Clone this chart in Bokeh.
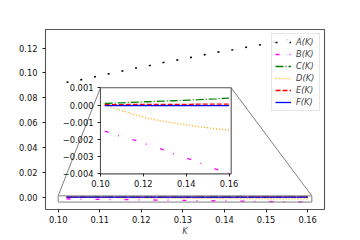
import numpy as np
from bokeh.plotting import figure
from bokeh.models import (Range1d, LinearAxis, FixedTicker, CustomJSTickFormatter,
                          Legend, LegendItem)
from bokeh.embed import file_html
from bokeh.resources import INLINE

# ---- data ----
K = [0.102, 0.106, 0.110, 0.114, 0.118, 0.122, 0.126, 0.130,
     0.134, 0.138, 0.142, 0.146, 0.150, 0.154, 0.158, 0.160]
A = [0.0925, 0.0948, 0.0978, 0.1005, 0.1034, 0.1060, 0.1089, 0.1112,
     0.1139, 0.1166, 0.1187, 0.1212, 0.1235, 0.1261, 0.1287, 0.1300]
B = [-0.00152, -0.00168, -0.00185, -0.00197, -0.00212, -0.00230, -0.00246, -0.00262,
     -0.00282, -0.00300, -0.00316, -0.00335, -0.00353, -0.00373, -0.00390, -0.00398]
C = [0.00009, 0.00011, 0.00013, 0.00015, 0.00017, 0.00019, 0.00021, 0.00023,
     0.00025, 0.00027, 0.00029, 0.00031, 0.00034, 0.00036, 0.00039, 0.00040]
D = [-0.00002, -0.00016, -0.00033, -0.00049, -0.00063, -0.00077, -0.00087, -0.00096,
     -0.00104, -0.00111, -0.00119, -0.00126, -0.00132, -0.00138, -0.00144, -0.00147]
E = [0.00002, 0.00002, 0.00002, 0.00003, 0.00003, 0.00003, 0.00003, 0.00004,
     0.00004, 0.00004, 0.00004, 0.00005, 0.00005, 0.00005, 0.00005, 0.00005]
F = [-0.00004, -0.00004, -0.00004, -0.00004, -0.00004, -0.00004, -0.00004, -0.00004,
     -0.00004, -0.00004, -0.00004, -0.00004, -0.00004, -0.00004, -0.00004, -0.00004]

series = [A, B, C, D, E, F]
labels = ["A(K)", "B(K)", "C(K)", "D(K)", "E(K)", "F(K)"]

main_xticks = [0.10, 0.11, 0.12, 0.13, 0.14, 0.15, 0.16]
main_yticks = [0.00, 0.02, 0.04, 0.06, 0.08, 0.10, 0.12]
inset_xticks = [0.10, 0.12, 0.14, 0.16]
inset_yticks = [-0.004, -0.003, -0.002, -0.001, 0.000, 0.001]
x_label = "K"

# ---- styles / layout ----
colors = ["black", "magenta", "green", "orange", "red", "blue"]
dashes = ["2 12", "4 10 1 14", "8 2 1 2", "1 2", "5 2", "solid"]
widths = [1.6, 1.3, 1.3, 1.3, 1.3, 1.3]

main_xlim = (0.09695, 0.16405)
main_ylim = (-0.0100, 0.1350)
inset_xlim = (0.100, 0.161)
inset_ylim = (-0.004, 0.001)
fx0, fy0, fx1, fy1 = 0.197, 0.198, 0.6656, 0.676   # inset box in axes fraction

FONT = "DejaVu Sans"
FS = "8.3px"

sx = (inset_xlim[1] - inset_xlim[0]) / (fx1 - fx0)
sy = (inset_ylim[1] - inset_ylim[0]) / (fy1 - fy0)
ix0 = inset_xlim[0] - fx0 * sx
iy0 = inset_ylim[0] - fy0 * sy

p = figure(width=360, height=240, x_range=Range1d(*main_xlim), y_range=Range1d(*main_ylim),
           output_backend="svg", toolbar_location=None,
           min_border_left=45, min_border_right=36, min_border_top=29, min_border_bottom=31)
p.extra_x_ranges = {"ix": Range1d(ix0, ix0 + sx)}
p.extra_y_ranges = {"iy": Range1d(iy0, iy0 + sy)}
p.grid.visible = False
p.outline_line_color = "#555555"
p.outline_line_width = 1.1
p.background_fill_color = "white"

fmt2 = CustomJSTickFormatter(code="return (tick < 0 ? '\u2212' : '') + Math.abs(tick).toFixed(2);")
fmt3 = CustomJSTickFormatter(code="return (tick < 0 ? '\u2212' : '') + Math.abs(tick).toFixed(3);")


def style_axis(ax, standoff):
    ax.axis_line_color = None
    ax.major_tick_line_color = "#222222"
    ax.major_tick_out = 3
    ax.major_tick_in = 0
    ax.minor_tick_line_color = None
    ax.major_label_text_font = FONT
    ax.major_label_text_font_size = FS
    ax.major_label_text_color = "#111111"
    ax.major_label_standoff = standoff


xax = p.xaxis[0]
yax = p.yaxis[0]
xax.ticker = FixedTicker(ticks=main_xticks)
yax.ticker = FixedTicker(ticks=main_yticks)
xax.formatter = fmt2
yax.formatter = fmt2
style_axis(xax, 3)
style_axis(yax, 5)
xax.axis_label = x_label
xax.axis_label_text_font = FONT
xax.axis_label_text_font_size = FS
xax.axis_label_text_font_style = "italic"
xax.axis_label_standoff = 0

# main lines
rends = []
for s, c, d, w in zip(series, colors, dashes, widths):
    r = p.line(K, s, line_color=c, line_dash=d, line_width=w)
    rends.append(r)

# zoom rectangle and connectors
p.quad(left=inset_xlim[0], right=inset_xlim[1], bottom=inset_ylim[0], top=inset_ylim[1],
       fill_color=None, line_color="#808080", line_width=1)
mx = lambda f: main_xlim[0] + f * (main_xlim[1] - main_xlim[0])
my = lambda f: main_ylim[0] + f * (main_ylim[1] - main_ylim[0])
p.segment(x0=[inset_xlim[0], inset_xlim[1]], y0=[inset_ylim[1], inset_ylim[1]],
          x1=[mx(fx0), mx(fx1)], y1=[my(fy1), my(fy1)], line_color="#808080", line_width=1)

# inset background and lines
p.quad(left=inset_xlim[0], right=inset_xlim[1], bottom=inset_ylim[0], top=inset_ylim[1],
       fill_color="white", line_color="#555555", line_width=1.1,
       x_range_name="ix", y_range_name="iy")
for s, c, d, w in zip(series[1:], colors[1:], dashes[1:], widths[1:]):
    p.line(K, s, line_color=c, line_dash=d, line_width=w, x_range_name="ix", y_range_name="iy")

# inset axes
iax = LinearAxis(x_range_name="ix", y_range_name="iy", fixed_location=inset_ylim[0],
                 bounds=inset_xlim, ticker=FixedTicker(ticks=inset_xticks), formatter=fmt2)
style_axis(iax, 3)
p.add_layout(iax, "below")
iay = LinearAxis(x_range_name="ix", y_range_name="iy", fixed_location=inset_xlim[0],
                 bounds=inset_ylim, ticker=FixedTicker(ticks=inset_yticks), formatter=fmt3)
style_axis(iay, 4)
p.add_layout(iay, "left")

legend = Legend(items=[LegendItem(label=l, renderers=[r]) for l, r in zip(labels, rends)],
                location="top_right")
legend.label_text_font = FONT
legend.label_text_font_size = FS
legend.label_text_font_style = "italic"
legend.glyph_width = 16
legend.glyph_height = 10
legend.label_height = 10
legend.label_standoff = 5
legend.spacing = 2
legend.padding = 3
legend.margin = 4
legend.border_line_color = "#cccccc"
legend.background_fill_alpha = 0.85
p.add_layout(legend)

open("out.html", "w").write(file_html(p, INLINE))
